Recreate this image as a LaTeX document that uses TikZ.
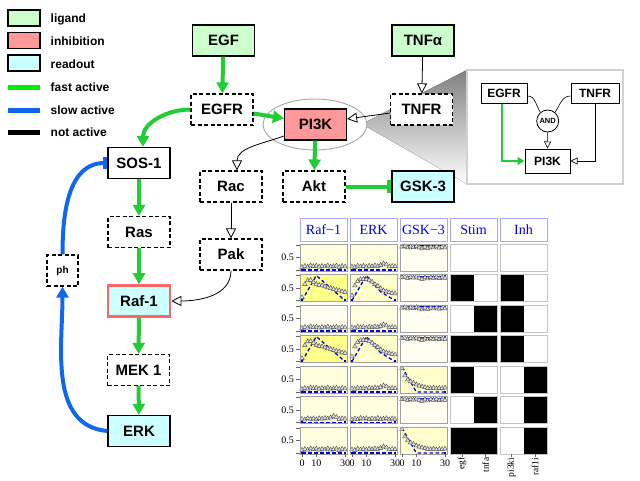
\documentclass[tikz,border=0pt]{standalone}
\usepackage{fontspec}
\setmainfont{Liberation Sans}
\newfontfamily\seriff{Liberation Serif}
\usetikzlibrary{arrows.meta,shapes.geometric,calc}
\definecolor{ligandc}{HTML}{CCFFCC}
\definecolor{inhc}{HTML}{FF9999}
\definecolor{readc}{HTML}{CCFFFF}
\definecolor{fastc}{HTML}{22CC33}
\definecolor{fastl}{HTML}{00EE00}
\definecolor{slowc}{HTML}{1166EE}
\definecolor{rafborder}{HTML}{FF6666}
\definecolor{hdrc}{HTML}{0000EE}
\definecolor{hdrb}{HTML}{A8A8FF}
\definecolor{simc}{HTML}{0000DD}
\definecolor{yA}{HTML}{FFFF8C}
\definecolor{yB}{HTML}{FFFFCC}
\definecolor{yC}{HTML}{FFFFE0}
\definecolor{yD}{HTML}{FFFFF2}
\definecolor{pbc}{HTML}{A0A0A0}
\definecolor{cbc}{HTML}{C4C4C4}
\definecolor{shade}{HTML}{E2E2E2}

\def\szero{(0,0) node[sq]{} -- (30,0) node[sq]{}}
\def\sone{(0,0.97) node[sq]{} -- (30,0.97) node[sq]{}}
\def\sraf{(0,0) node[sq]{} -- (10,1) -- (30,0) node[sq]{}}
\def\serk{(0,0) node[sq]{} -- (10,1) -- (20,0.35) -- (30,0) node[sq]{}}
\def\sgsk{(0,1) node[sq]{} -- (10,0) -- (30,0) node[sq]{}}
\def\dlow{0/0.12,2/0.16,4/0.13,6/0.18,8/0.15,10/0.17,12/0.13,14/0.16,16/0.14,18/0.18,20/0.13,22/0.15,24/0.17,26/0.12,28/0.16,30/0.14}
\def\dlowb{0/0.14,2/0.12,4/0.17,6/0.14,8/0.16,10/0.13,12/0.17,14/0.15,16/0.18,18/0.16,20/0.2,22/0.26,24/0.22,26/0.14,28/0.16,30/0.15}
\def\dhigh{0/0.93,2/0.95,4/0.9,6/0.94,8/0.91,10/0.95,12/0.9,14/0.86,16/0.92,18/0.88,20/0.93,22/0.9,24/0.94,26/0.89,28/0.92,30/0.9}
\def\draf{0/0.13,2/0.65,4/0.8,6/0.82,8/0.74,10/0.66,12/0.62,14/0.6,16/0.56,18/0.52,20/0.5,22/0.46,24/0.42,26/0.4,28/0.36,30/0.34}
\def\derk{0/0.2,2/0.6,4/0.78,6/0.85,8/0.86,10/0.85,12/0.82,14/0.75,16/0.65,18/0.58,20/0.48,22/0.4,24/0.36,26/0.33,28/0.3,30/0.28}
\def\dgsk{0/0.95,2/0.66,4/0.5,6/0.42,8/0.36,10/0.3,12/0.25,14/0.22,16/0.19,18/0.16,20/0.15,22/0.17,24/0.14,26/0.16,28/0.15,30/0.17}

\newcommand{\panel}[5]{%
  \fill[#3] (#1,-#2) rectangle ++(47,-27);
  \begin{scope}[shift={(#1+2,-#2-26)}, xscale=1.433, yscale=25]
    \draw[sim] #4;
    \foreach \t/\v in #5 {\node[tri] at (\t,\v) {};}
  \end{scope}
  \draw[pbord] (#1,-#2) rectangle ++(47,-27);
}

\begin{document}
\begin{tikzpicture}[x=1pt,y=1pt,
  box/.style={draw=black, line width=1.2pt, minimum width=62pt, minimum height=31pt, inner sep=0pt,
    font=\bfseries\fontsize{15}{18}\selectfont, text height=10.7pt, text depth=0pt, fill=white},
  dbox/.style={box, dash pattern=on 4pt off 2.5pt},
  ligand/.style={box, fill=ligandc},
  inhib/.style={box, fill=inhc},
  readout/.style={box, fill=readc},
  fast/.style={draw=fastc, line width=4pt, -{Triangle[length=11pt,width=12pt]}},
  fastbar/.style={draw=fastc, line width=4pt, -{Bar[width=13pt]}},
  slow/.style={draw=slowc, line width=4pt},
  inact/.style={draw=black, line width=0.8pt, -{Triangle[length=10pt,width=10pt,fill=white]}},
  legbox/.style={draw=black, line width=1.3pt, minimum width=32pt, minimum height=16pt, inner sep=0pt},
  leglab/.style={anchor=base west, inner sep=0pt, font=\bfseries\fontsize{12}{14}\selectfont},
  ibox/.style={draw=black, line width=1pt, fill=white, inner sep=0pt, font=\bfseries\fontsize{12}{14}\selectfont, text height=8.6pt, text depth=0pt},
  ithin/.style={draw=black, line width=0.6pt},
  hdr/.style={draw=hdrb, line width=0.8pt, fill=white, minimum width=47pt, minimum height=23pt, inner sep=0pt,
    font=\seriff\fontsize{14}{16}\selectfont, text=hdrc, text height=9.5pt, text depth=0pt},
  sim/.style={draw=simc, line width=1.3pt, dash pattern=on 3.5pt off 2.5pt},
  sq/.style={rectangle, fill=simc, minimum size=2.8pt, inner sep=0pt},
  tri/.style={regular polygon, regular polygon sides=3, draw=black!70, fill=black!12, line width=0.4pt, minimum size=5.2pt, inner sep=0pt},
  pbord/.style={draw=pbc, line width=0.7pt},
  cbord/.style={draw=cbc, line width=0.8pt},
  axlab/.style={font=\seriff\fontsize{10}{12}\selectfont, inner sep=0pt},
  rlab/.style={font=\seriff\fontsize{9.5}{11}\selectfont, inner sep=0pt, rotate=90, anchor=east}
]
\useasboundingbox (0,0) rectangle (640,-480);
\fill[white] (0,0) rectangle (640,-480);

% legend
\node[legbox, fill=ligandc] (lg1) at (24,-18) {};
\node[legbox, fill=inhc] (lg2) at (24,-40.5) {};
\node[legbox, fill=readc] (lg3) at (24,-63) {};
\draw[fastl, line width=5pt] (8,-87.5) -- (40,-87.5);
\draw[slowc, line width=5pt] (8,-110) -- (40,-110);
\draw[black, line width=5pt] (8,-132.5) -- (40,-132.5);
\node[leglab] (lt1) at (50.5,-22.3) {ligand};
\node[leglab] (lt2) at (50.5,-45.5) {inhibition};
\node[leglab] (lt3) at (50.5,-68.2) {readout};
\node[leglab] (lt4) at (50.5,-91.6) {fast active};
\node[leglab] (lt5) at (50.5,-114.2) {slow active};
\node[leglab] (lt6) at (50.5,-136.6) {not active};

% zoom shade and inset
\fill[shade] (362,-124) -- (467,-70) -- (467,-184) -- cycle;
\draw[draw=black!18, fill=white, line width=1.2pt] (467,-70) rectangle (623,-184);

% main nodes
\node[ellipse, draw=black!35, fill=white, line width=0.9pt, minimum width=104pt, minimum height=51pt] (grp) at (315,-124.5) {};
\node[ligand] (egf) at (223.5,-40.5) {EGF};
\node[ligand] (tnfa) at (423,-40.5) {TNFα};
\node[dbox] (egfr) at (222,-109.5) {EGFR};
\node[dbox] (tnfr) at (421.5,-109.5) {TNFR};
\node[inhib] (pi3k) at (315.5,-124.5) {PI3K};
\node[dbox] (rac) at (231,-186.5) {Rac};
\node[dbox] (akt) at (314,-186.5) {Akt};
\node[readout] (gsk) at (423,-186.5) {GSK-3};
\node[dbox] (pak) at (231,-254.5) {Pak};
\node[box] (sos) at (139,-163) {SOS-1};
\node[dbox] (ras) at (139,-232) {Ras};
\node[readout, draw=rafborder, line width=2.6pt] (raf) at (139,-301) {Raf-1};
\node[dbox] (mek) at (138.5,-370) {MEK 1};
\node[readout] (erk) at (139,-431) {ERK};
\node[dbox, minimum width=31pt, minimum height=31pt, font=\bfseries\fontsize{10}{12}\selectfont, text height=7.2pt, text depth=2pt] (ph) at (62.5,-270.5) {ph};

% main connectors
\draw[fast] (egf) -- (egfr);
\draw[fast] ($(egfr.east)+(0,-4)$) -- ($(pi3k.west)+(0,6)$);
\draw[fast] (egfr.west) to[out=180,in=90] ($(sos.north)+(4,0)$);
\draw[inact] (tnfa) -- (tnfr);
\draw[inact] ($(tnfr.west)+(0,-3.5)$) -- ($(pi3k.east)+(0,5.5)$);
\draw[fast] (pi3k) -- (akt);
\draw[fastbar] (akt) -- (gsk);
\draw[inact] (pi3k.200) to[out=200,in=90] ($(rac.north)+(6,0)$);
\draw[inact] (rac) -- (pak);
\draw[inact] (pak.south) to[out=-90,in=0] (raf.east);
\draw[fast] (sos) -- (ras);
\draw[fast] (ras) -- (raf);
\draw[fast] (raf) -- (mek);
\draw[fast] (mek) -- (erk);
\draw[slow, -{Triangle[length=11pt,width=12pt]}] (erk.west) to[out=175,in=-90] (ph.south);
\draw[slow, -{Bar[width=12pt]}] (ph.north) to[out=90,in=180] (sos.west);

% inset content
\node[ibox, minimum width=46pt, minimum height=20pt] (iegfr) at (504,-93) {EGFR};
\node[ibox, minimum width=48pt, minimum height=20pt] (itnfr) at (595,-93) {TNFR};
\node[ibox, minimum width=45pt, minimum height=24pt] (ipi3k) at (547.5,-161) {PI3K};
\node[circle, draw=black, line width=0.8pt, fill=white, minimum size=22pt, inner sep=0pt, font=\bfseries\fontsize{7.5}{9}\selectfont] (and) at (547.7,-121) {AND};
\draw[draw=fastc, line width=2.2pt, -{Triangle[length=7pt,width=8pt]}] ($(iegfr.south west)!0.45!(iegfr.south east)$) |- (ipi3k.west);
\draw[ithin, -{Triangle[length=7pt,width=7pt,fill=white]}] (itnfr.south) |- (ipi3k.east);
\draw[ithin, -{Triangle[length=7pt,width=7pt,fill=white]}] (and.south) -- (ipi3k.north);
\draw[ithin] ($(iegfr.east)+(0,-3)$) to[out=0,in=125] (and.130);
\draw[ithin] ($(itnfr.west)+(0,-3)$) to[out=180,in=55] (and.50);

% plot headers
\node[hdr] (h1) at (323.5,-229.5) {Raf−1};
\node[hdr] (h2) at (373.5,-229.5) {ERK};
\node[hdr] (h3) at (423.5,-229.5) {GSK−3};
\node[hdr] (h4) at (473.5,-229.5) {Stim};
\node[hdr] (h5) at (523.5,-229.5) {Inh};

% panels
\panel{300}{244}{yC}{\szero}{\dlow}
\panel{350}{244}{yC}{\szero}{\dlowb}
\panel{400}{244}{yD}{\sone}{\dhigh}
\panel{300}{274.5}{yA}{\sraf}{\draf}
\panel{350}{274.5}{yB}{\serk}{\derk}
\panel{400}{274.5}{yD}{\sone}{\dhigh}
\panel{300}{305}{yD}{\szero}{\dlow}
\panel{350}{305}{yC}{\szero}{\dlowb}
\panel{400}{305}{yD}{\sone}{\dhigh}
\panel{300}{335.5}{yA}{\sraf}{\draf}
\panel{350}{335.5}{yB}{\serk}{\derk}
\panel{400}{335.5}{yD}{\sone}{\dhigh}
\panel{300}{366}{yC}{\szero}{\dlow}
\panel{350}{366}{yC}{\szero}{\dlowb}
\panel{400}{366}{yB}{\sgsk}{\dgsk}
\panel{300}{396.5}{yC}{\szero}{\dlowb}
\panel{350}{396.5}{yC}{\szero}{\dlow}
\panel{400}{396.5}{yD}{\sone}{\dhigh}
\panel{300}{427}{yC}{\szero}{\dlow}
\panel{350}{427}{yC}{\szero}{\dlowb}
\panel{400}{427}{yB}{\sgsk}{\dgsk}

% stim / inh cells
\foreach \r/\a/\b/\c/\d in {0/0/0/0/0, 1/1/0/1/0, 2/0/1/1/0, 3/1/1/1/0, 4/1/0/0/1, 5/0/1/0/1, 6/1/1/0/1}{
  \pgfmathsetmacro\yy{-(244+30.5*\r)}
  \ifnum\a=1 \fill[black] (450,\yy) rectangle ++(23.5,-27); \fi
  \ifnum\b=1 \fill[black] (473.5,\yy) rectangle ++(23.5,-27); \fi
  \ifnum\c=1 \fill[black] (500,\yy) rectangle ++(23.5,-27); \fi
  \ifnum\d=1 \fill[black] (523.5,\yy) rectangle ++(23.5,-27); \fi
  \draw[cbord] (450,\yy) rectangle ++(47,-27);
  \draw[cbord] (500,\yy) rectangle ++(47,-27);
  \node[axlab] at (287.7,\yy-13.5) {0.5};
  \foreach \dv in {1,13.5,26}{\draw[black!60, line width=0.5pt] (296,\yy-\dv) -- (299.5,\yy-\dv);}
}

% bottom axis
\foreach \cx in {300,350,400}{
  \foreach \tx/\tl in {2/0,16.3/10,45/30}{
    \draw[black!60, line width=0.5pt] (\cx+\tx,-454) -- (\cx+\tx,-457);
    \node[axlab] at (\cx+\tx,-463) {\tl};
  }
}
\foreach \lx/\lt in {462/egf,485.5/tnfa,511.5/pi3ki,535/raf1i}{
  \draw[black!60, line width=0.5pt] (\lx,-454) -- (\lx,-456.5);
  \node[rlab] at (\lx,-457.5) {\lt};
}
\end{tikzpicture}
\end{document}
